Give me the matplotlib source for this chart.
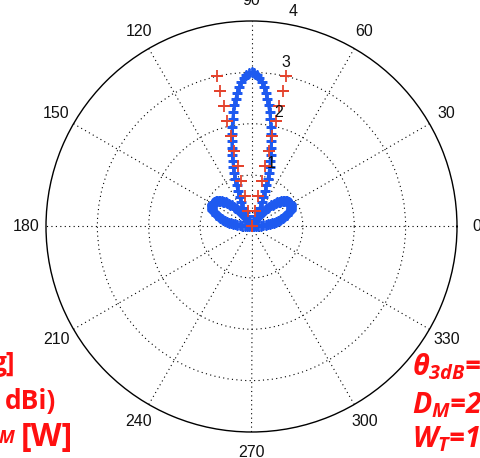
import numpy as np
import matplotlib
matplotlib.use("Agg")
import matplotlib.pyplot as plt

# ---- data -------------------------------------------------------------
# radiation pattern, one sample per degree from 0 to 180 deg
theta_deg = np.arange(0, 181)
pattern_r = [
    0.00, 0.04, 0.09, 0.13, 0.19, 0.23, 0.28, 0.32, 0.36, 0.41,
    0.44, 0.48, 0.52, 0.56, 0.59, 0.63, 0.66, 0.69, 0.72, 0.74,
    0.76, 0.78, 0.80, 0.83, 0.84, 0.85, 0.86, 0.87, 0.88, 0.88,
    0.88, 0.88, 0.88, 0.87, 0.86, 0.85, 0.84, 0.83, 0.80, 0.78,
    0.76, 0.74, 0.72, 0.69, 0.66, 0.63, 0.59, 0.56, 0.52, 0.48,
    0.44, 0.41, 0.36, 0.32, 0.28, 0.23, 0.19, 0.13, 0.09, 0.04,
    0.02, 0.04, 0.08, 0.14, 0.22, 0.31, 0.40, 0.51, 0.62, 0.73,
    0.85, 0.97, 1.10, 1.21, 1.32, 1.45, 1.58, 1.71, 1.85, 1.98,
    2.12, 2.25, 2.38, 2.51, 2.62, 2.73, 2.82, 2.89, 2.95, 2.99,
    3.00,
    2.99, 2.95, 2.89, 2.82, 2.73, 2.62, 2.51, 2.38, 2.25, 2.12,
    1.98, 1.85, 1.71, 1.58, 1.45, 1.32, 1.21, 1.10, 0.97, 0.85,
    0.73, 0.62, 0.51, 0.40, 0.31, 0.22, 0.14, 0.08, 0.04, 0.02,
    0.04, 0.09, 0.13, 0.19, 0.23, 0.28, 0.32, 0.36, 0.41, 0.44,
    0.48, 0.52, 0.56, 0.59, 0.63, 0.66, 0.69, 0.72, 0.74, 0.76,
    0.78, 0.80, 0.83, 0.84, 0.85, 0.86, 0.87, 0.88, 0.88, 0.88,
    0.88, 0.88, 0.87, 0.86, 0.85, 0.84, 0.83, 0.80, 0.78, 0.76,
    0.74, 0.72, 0.69, 0.66, 0.63, 0.59, 0.56, 0.52, 0.48, 0.44,
    0.41, 0.36, 0.32, 0.28, 0.23, 0.19, 0.13, 0.09, 0.04, 0.00,
]

# half-power beam edges, marked along radial lines
beam_edges_deg = [77, 103]
beam_marker_r = [0.0, 0.3, 0.6, 0.9, 1.2, 1.5, 1.8, 2.1, 2.4, 2.7, 3.0]

angle_ticks = [0, 30, 60, 90, 120, 150, 180, 210, 240, 270, 300, 330]
radial_ticks = [1, 2, 3, 4]

# ---- figure -----------------------------------------------------------
W, H = 480, 458
fig = plt.figure(figsize=(W / 100, H / 100), dpi=100)
fig.patch.set_facecolor("white")

cx, cy, R = 251.5, 458 - 226.5, 205.5
ax = fig.add_axes([(cx - R) / W, (cy - R) / H, 2 * R / W, 2 * R / H],
                  projection="polar")
ax.set_theta_zero_location("E")
ax.set_ylim(0, radial_ticks[-1])
ax.set_yticks(radial_ticks[:-1])
ax.set_xticks(np.deg2rad(angle_ticks))
ax.set_xticklabels([])
ax.set_yticklabels([])
ax.tick_params(length=0)
ax.grid(True, color="black", linestyle=(0, (1, 3)), linewidth=0.8)
ax.spines["polar"].set_linewidth(1.0)
ax.spines["polar"].set_color("black")

# angle labels
for a in angle_ticks:
    ax.text(np.deg2rad(a), 4.39, str(a), ha="center", va="center",
            fontsize=11.5, family="Liberation Sans", color="#111111")

# radial labels
for r in radial_ticks:
    ax.annotate(str(r), xy=(np.deg2rad(82), r + 0.05), xytext=(5.8, 3.4),
                textcoords="offset points", ha="left", va="baseline",
                fontsize=11.5, family="Liberation Sans", color="#111111",
                annotation_clip=False)

# pattern and beam-edge markers
ax.plot(np.deg2rad(theta_deg), pattern_r, linestyle="-", linewidth=2.0,
        marker="+", markersize=7, markeredgewidth=2.0, color="#1e5af0")
for edge in beam_edges_deg:
    ax.plot(np.deg2rad(np.full(len(beam_marker_r), edge)), beam_marker_r,
            linestyle="none", marker="+", markersize=8.5,
            markeredgewidth=1.3, color="#e4432d")

# annotations at the sides
plt.rcParams["mathtext.fontset"] = "custom"
plt.rcParams["mathtext.it"] = "Open Sans:bold:italic"
plt.rcParams["mathtext.rm"] = "Open Sans:bold:italic"
red = "#ff1010"
rk = dict(color=red, fontsize=20.5, family="Open Sans", weight="bold",
          style="italic", ha="left", va="baseline")
fig.text(412 / W, 1 - 375 / H, r"$\theta_{3dB}$=26°", **rk)
fig.text(412 / W, 1 - 413 / H, r"$D_{M}$=2 ", **rk)
fig.text(412 / W, 1 - 447 / H, r"$W_{T}$=1 ", **rk)

lk = dict(color=red, fontsize=19, family="Open Sans", weight="bold",
          ha="right", va="baseline")
fig.text(16 / W, 1 - 371 / H, "g]", **lk)
fig.text(56 / W, 1 - 409 / H, "dBi)", **lk)
fig.text(73 / W, 1 - 446 / H, "[W]", color=red, fontsize=23,
         family="Open Sans", weight="bold", ha="right", va="baseline")
fig.text(14 / W, 1 - 443 / H, "M", color=red, fontsize=13, family="Open Sans",
         weight="bold", style="italic", ha="right", va="baseline")

fig.savefig("out.png", dpi=100, facecolor="white")
